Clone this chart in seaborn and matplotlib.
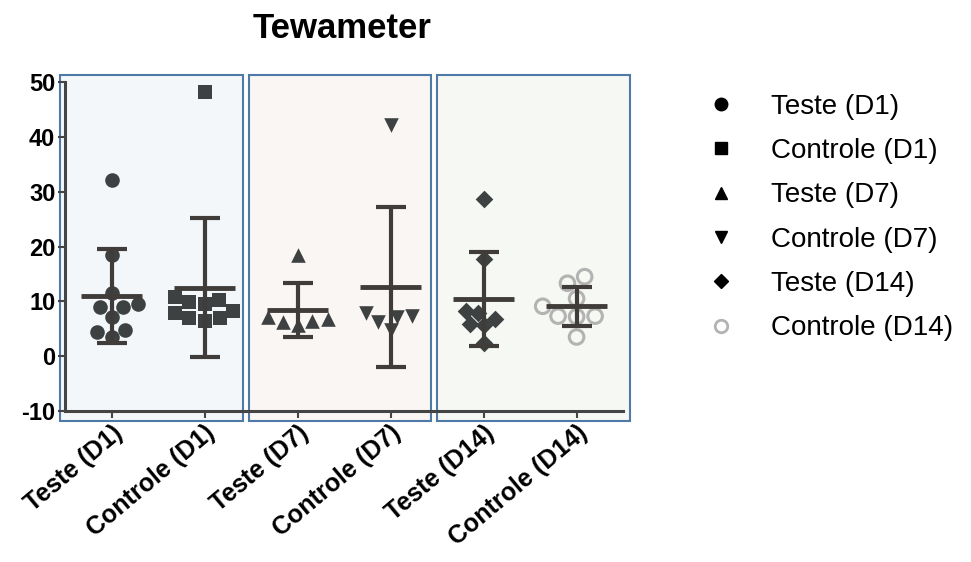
import numpy as np
import pandas as pd
import matplotlib
matplotlib.use('Agg')
import matplotlib.pyplot as plt
from matplotlib.patches import Rectangle
from matplotlib.lines import Line2D
import seaborn as sns

# data
groups = ['Teste (D1)', 'Controle (D1)', 'Teste (D7)', 'Controle (D7)', 'Teste (D14)', 'Controle (D14)']
teste_d1 = [32.1, 18.4, 11.6, 9.6, 8.9, 8.9, 7.2, 4.7, 4.4, 3.5]
controle_d1 = [48.2, 10.8, 10.2, 9.9, 9.6, 8.2, 7.8, 7.0, 6.9, 6.5]
teste_d7 = [18.4, 7.2, 6.7, 6.4, 6.3, 5.7]
controle_d7 = [42.2, 7.9, 7.3, 7.1, 6.3, 4.7]
teste_d14 = [28.6, 17.7, 8.3, 7.8, 6.7, 5.8, 5.7, 2.4]
controle_d14 = [14.5, 13.3, 10.5, 9.1, 7.3, 7.2, 7.3, 3.5]
values = [teste_d1, controle_d1, teste_d7, controle_d7, teste_d14, controle_d14]
markers = ['o', 's', '^', 'v', 'D', 'o']
yticks = [-10, 0, 10, 20, 30, 40, 50]

sns.set_style('white')
plt.rcParams['font.family'] = ['Liberation Sans', 'DejaVu Sans']
plt.rcParams['text.color'] = 'black'
plt.rcParams['xtick.color'] = 'black'
plt.rcParams['ytick.color'] = 'black'

dark = '#3d4142'
line_c = '#403c3a'
grey = '#b3b3b3'

fig = plt.figure(figsize=(9.71, 5.62), dpi=100)
ax = fig.add_axes([0.067, 0.2687, 0.5747, 0.5853])
ax.set_facecolor('none')

# background panels (one per day)
panel_cols = ['#f3f7fa', '#faf6f3', '#f6f8f3']
panel_x = [(-0.556, 1.41), (1.476, 3.44), (3.50, 5.57)]
for (x0, x1), fc in zip(panel_x, panel_cols):
    ax.add_patch(Rectangle((x0, -11.9), x1 - x0, 63.2, facecolor=fc, edgecolor='#4f79a6',
                           linewidth=1.5, clip_on=False, zorder=0))

# scatter points
for i, (g, v, m) in enumerate(zip(groups, values, markers)):
    df = pd.DataFrame({'grupo': [g] * len(v), 'valor': v})
    sz = 9 if m == 'D' else 10.5
    if i == 5:
        sns.swarmplot(data=df, x='grupo', y='valor', order=groups, marker=m, size=sz,
                      color=grey, linewidth=2.2, edgecolor=grey, ax=ax, zorder=3)
        ax.collections[-1].set_facecolor('none')
    else:
        sns.swarmplot(data=df, x='grupo', y='valor', order=groups, marker=m, size=sz,
                      color=dark, linewidth=0, ax=ax, zorder=3)

# mean +/- SD
for i, v in enumerate(values):
    mean = np.mean(v)
    sd = np.std(v, ddof=1)
    ax.errorbar(i, mean, yerr=sd, fmt='none', ecolor=line_c, elinewidth=3,
                capsize=11, capthick=3, zorder=5)
    ax.hlines(mean, i - 0.33, i + 0.33, color=line_c, linewidth=3.5, zorder=5)

ax.set_xlim(-0.5, 5.5)
ax.set_ylim(-10, 50)
ax.set_yticks(yticks)
ax.set_yticklabels([str(t) for t in yticks], fontsize=17, fontweight='bold')
ax.set_xticks(range(len(groups)))
ax.set_xticklabels(groups, rotation=40, ha='right', rotation_mode='anchor',
                   fontsize=18, fontweight='bold')
ax.set_xlabel('')
ax.set_ylabel('')
for s in ['top', 'right']:
    ax.spines[s].set_visible(False)
for s in ['left', 'bottom']:
    ax.spines[s].set_color('#444444')
    ax.spines[s].set_linewidth(2.2)
    ax.spines[s].set_zorder(6)
ax.tick_params(axis='both', length=5, width=1.5, color='#444444', pad=2, bottom=True, left=True)

fig.text(0.352, 0.95, 'Tewameter', ha='center', va='center', fontsize=25, fontweight='bold')

handles = []
for i, m in enumerate(markers):
    if i == 5:
        h = Line2D([], [], linestyle='none', marker=m, markersize=9, markerfacecolor='none',
                   markeredgecolor=grey, markeredgewidth=2)
    else:
        h = Line2D([], [], linestyle='none', marker=m, markersize=9 if m != 'D' else 7,
                   color='black')
    handles.append(h)
leg = fig.legend(handles, groups, loc='upper left', bbox_to_anchor=(0.702, 0.878), frameon=False,
                 fontsize=20, labelspacing=0.66, handlelength=1, handletextpad=1.3)

fig.savefig('out.png', dpi=100)
